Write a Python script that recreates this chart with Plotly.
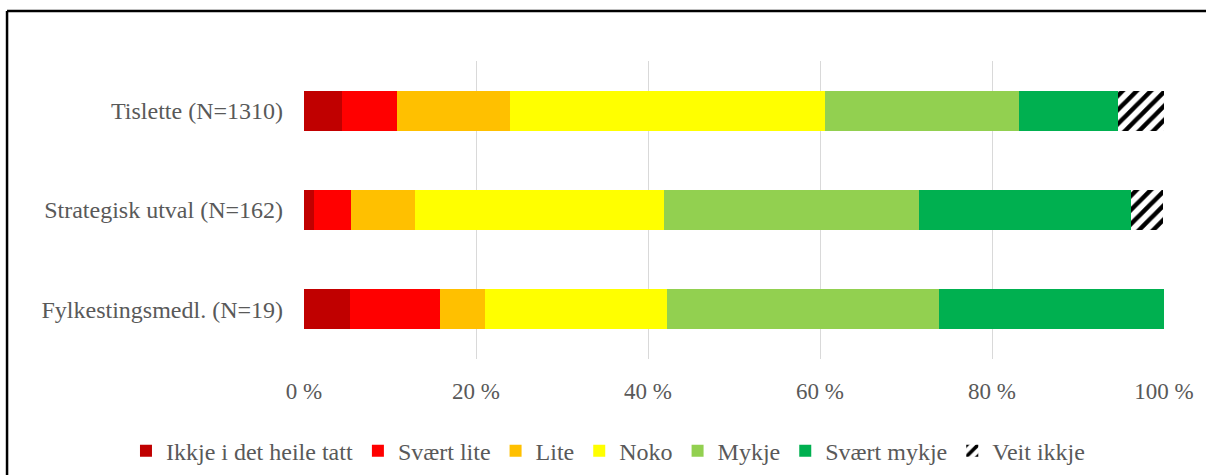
import plotly.graph_objects as go

categories = ["Tislette (N=1310)", "Strategisk utval (N=162)", "Fylkestingsmedl. (N=19)"]

series_names = ["Ikkje i det heile tatt", "Svært lite", "Lite", "Noko", "Mykje", "Svært mykje", "Veit ikkje"]

ikkje = [4.4, 1.2, 5.3]
svaert_lite = [6.4, 4.3, 10.5]
lite = [13.2, 7.4, 5.3]
noko = [36.6, 29.0, 21.1]
mykje = [22.5, 29.6, 31.6]
svaert_mykje = [11.5, 24.7, 26.3]
veit_ikkje = [5.4, 3.7, 0.0]

colors = ["#C00000", "#FF0000", "#FFC000", "#FFFF00", "#92D050", "#00B050", "#FFFFFF"]

tick_vals = [0, 20, 40, 60, 80, 100]
tick_text = ["0 %", "20 %", "40 %", "60 %", "80 %", "100 %"]

all_values = [ikkje, svaert_lite, lite, noko, mykje, svaert_mykje, veit_ikkje]

FONT = "Liberation Serif, Times New Roman, serif"
TXT = "#595959"

fig = go.Figure()
for name, vals, col in zip(series_names, all_values, colors):
    marker = dict(color=col, line=dict(width=0))
    if name == "Veit ikkje":
        marker["pattern"] = dict(shape="/", fgcolor="black", bgcolor="white",
                                 size=10, solidity=0.45, fillmode="replace")
    fig.add_trace(go.Bar(
        y=categories, x=vals, name=name, orientation="h",
        marker=marker, hoverinfo="x+name",
    ))

fig.update_layout(
    barmode="stack",
    bargap=0.6,
    width=1206, height=475,
    margin=dict(l=304, r=42, t=61, b=116, autoexpand=False),
    paper_bgcolor="white", plot_bgcolor="white",
    font=dict(family=FONT, size=24, color=TXT),
    showlegend=True,
    legend=dict(orientation="h", x=-0.207, xanchor="left", y=-0.309, yanchor="middle",
                font=dict(family=FONT, size=24, color=TXT),
                itemwidth=30, traceorder="normal", bgcolor="rgba(0,0,0,0)"),
    xaxis=dict(range=[0, 100], tickvals=tick_vals, ticktext=tick_text,
               showgrid=True, gridcolor="#D9D9D9", gridwidth=1, zeroline=False,
               showline=False, ticks="", ticklabelstandoff=16,
               tickfont=dict(family=FONT, size=23, color=TXT), fixedrange=True),
    yaxis=dict(autorange="reversed", showgrid=False, zeroline=False, showline=False,
               ticks="", ticklabelstandoff=20,
               tickfont=dict(family=FONT, size=24, color=TXT)),
    shapes=[
        dict(type="line", xref="paper", yref="paper", x0=-0.3453, x1=1.08, y0=1.1678, y1=1.1678,
             line=dict(color="black", width=2.5)),
        dict(type="line", xref="paper", yref="paper", x0=-0.3453, x1=-0.3453, y0=1.1678, y1=-0.45,
             line=dict(color="black", width=2.5)),
    ],
)

fig.write_html("out.html", config={"displayModeBar": False},
               post_script="document.body.style.margin='0';document.body.style.overflow='hidden';")
